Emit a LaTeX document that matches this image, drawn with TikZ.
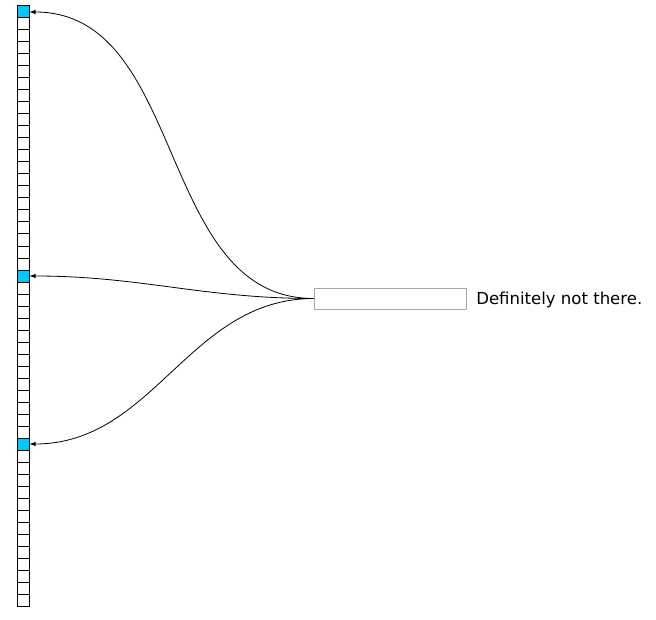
\documentclass[tikz,border=0pt]{standalone}
\usepackage{fontspec}
\setmainfont{DejaVu Sans}
\usetikzlibrary{arrows}
\definecolor{hit}{RGB}{0,200,250}

\begin{document}
\begin{tikzpicture}[x=0.75pt, y=-0.75pt,
    cell/.style={draw, minimum size=9pt, inner sep=0pt, line width=0.75pt},
    probe/.style={draw=black!35, minimum width=114pt, minimum height=15.75pt, inner sep=0pt}]
    \useasboundingbox (0,0) rectangle (656,620);
    \foreach \i in {0,...,49}{
        \pgfmathparse{(\i==0 || \i==22 || \i==36) ? "hit" : "white"}
        \let\cellfill\pgfmathresult
        \node[cell, fill=\cellfill](c\i) at (23, 12+12*\i) {};
    }
    \node[probe](key)       at (390, 298.5) {};
    \node[anchor=base west, inner sep=0pt, font=\fontsize{12.4}{14}\selectfont](note) at (476, 304) {Definitely not there.};
    \path[line width=0.6pt, >=latex]
        (key.west)
            edge [->, out=180, in=0] (c0.east)
            edge [->, out=180, in=0] (c22.east)
            edge [->, out=180, in=0] (c36.east)
        ;
\end{tikzpicture}
\end{document}
